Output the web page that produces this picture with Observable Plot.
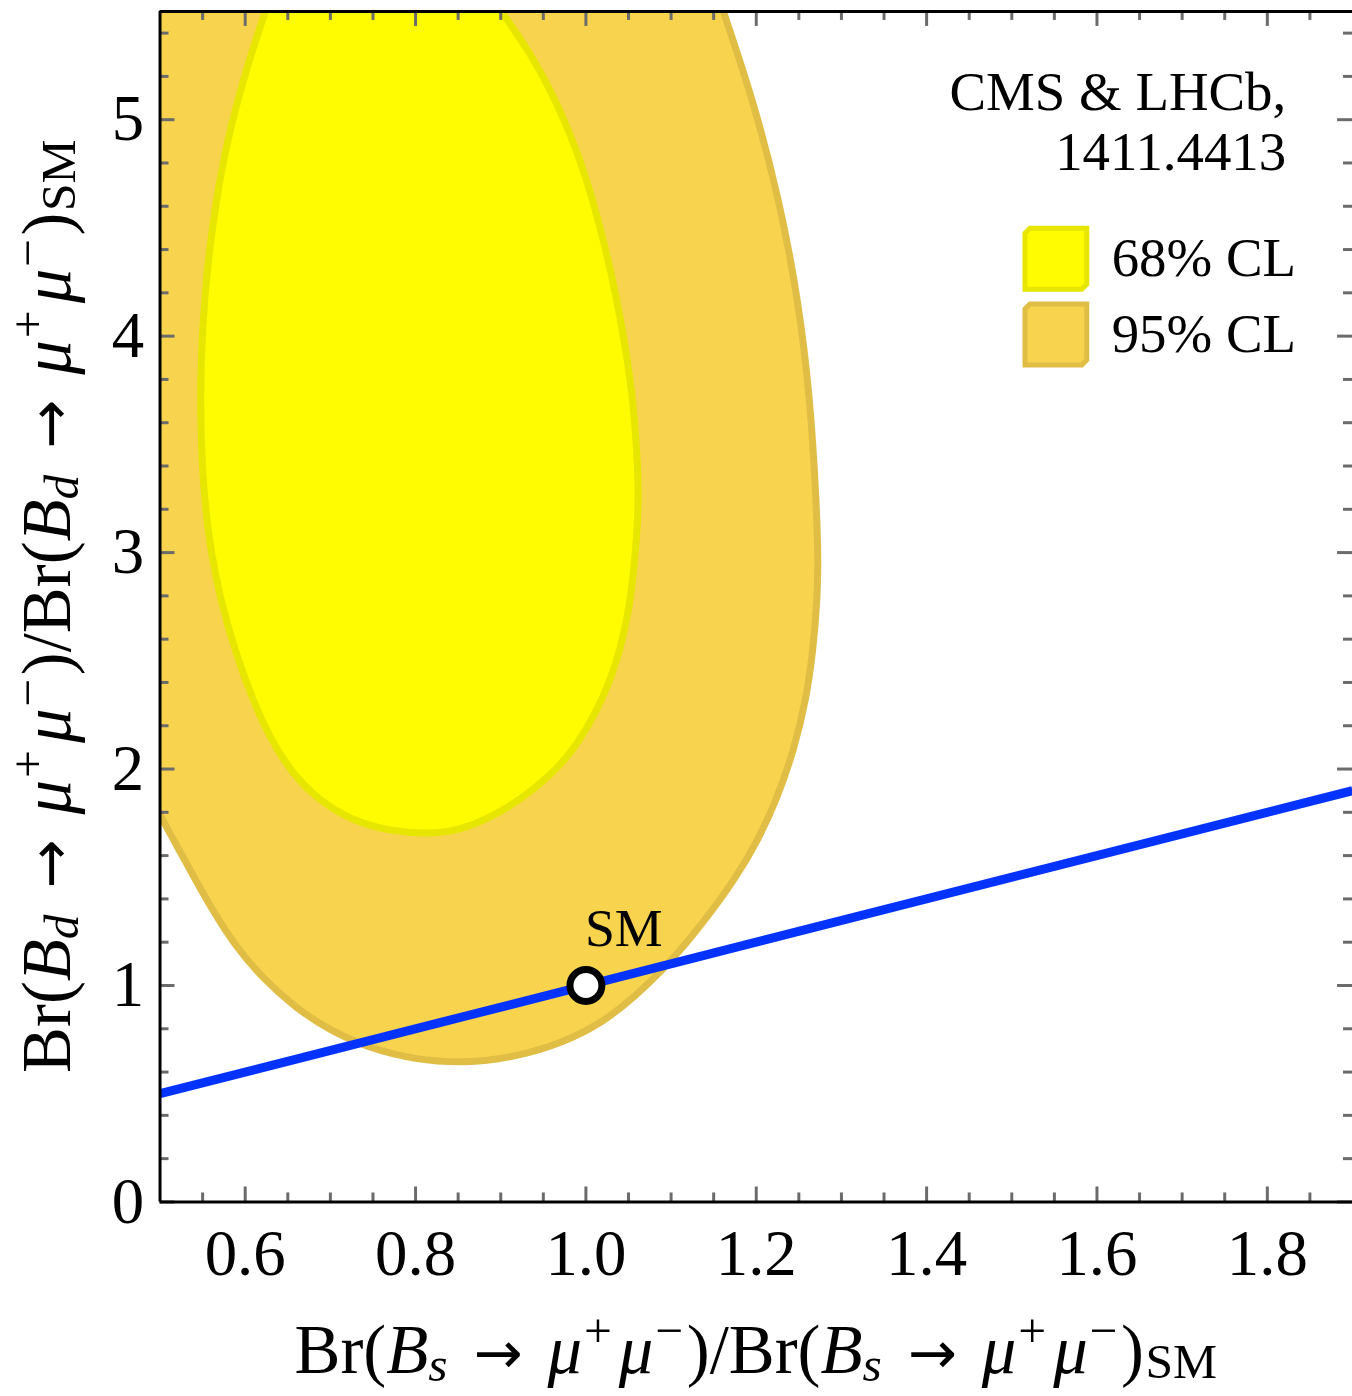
<!DOCTYPE html>
<html><head><meta charset="utf-8">
<script src="https://cdn.jsdelivr.net/npm/d3@7"></script>
<script src="https://cdn.jsdelivr.net/npm/@observablehq/plot@0.6"></script>
<style>
html,body{margin:0;padding:0;background:#fff;overflow:hidden;}
#chart svg{display:block;}
</style></head><body><div id="chart"></div>
<script>
// 95% CL contour (the first and last points lie beyond the frame and close the clipped region)
const cl95X = [1.145, 1.1535, 1.1616, 1.1967, 1.2272, 1.2494, 1.2634, 1.2704, 1.2728, 1.2716, 1.2669, 1.2588, 1.2447, 1.2248, 1.2003, 1.1734, 1.1453, 1.1184, 1.0903, 1.0587, 1.0213, 0.9745, 0.9160, 0.8575, 0.7990, 0.7463, 0.6995, 0.6586, 0.6199, 0.5883, 0.5614, 0.5392, 0.5193, 0.5006, 0.4772, 0.4480, 0.4245, 0.4187, 0.40, 0.40, 0.40];
const cl95Y = [5.75, 5.594, 5.497, 5.087, 4.627, 4.167, 3.706, 3.246, 2.970, 2.786, 2.555, 2.325, 2.095, 1.865, 1.657, 1.483, 1.331, 1.197, 1.073, 0.953, 0.833, 0.737, 0.668, 0.640, 0.658, 0.709, 0.792, 0.898, 1.036, 1.183, 1.349, 1.506, 1.648, 1.782, 1.957, 2.233, 2.786, 3.706, 5.75, 5.75, 5.75];
// 68% CL contour
const cl68X = [0.6234, 0.6082, 0.5907, 0.5766, 0.5661, 0.5579, 0.5521, 0.5486, 0.5474, 0.5486, 0.5521, 0.5591, 0.5708, 0.5872, 0.6082, 0.6293, 0.6550, 0.6878, 0.7252, 0.7697, 0.8165, 0.8516, 0.8867, 0.9218, 0.9569, 0.9861, 1.0212, 1.0411, 1.0528, 1.0587, 1.0622, 1.0598, 1.0552, 1.0470, 1.0364, 1.0236, 1.0084, 0.9896, 0.9651, 0.9335, 0.9007, 0.8867, 0.6316];
const cl68Y = [5.497, 5.318, 5.087, 4.857, 4.627, 4.397, 4.167, 3.936, 3.706, 3.476, 3.246, 3.016, 2.786, 2.555, 2.325, 2.141, 1.980, 1.851, 1.763, 1.713, 1.699, 1.717, 1.773, 1.855, 1.966, 2.086, 2.325, 2.555, 2.786, 3.016, 3.246, 3.476, 3.706, 3.936, 4.167, 4.397, 4.627, 4.857, 5.087, 5.318, 5.497, 5.594, 5.594];
// SM line and point
const smLineX = [0.5, 1.9];
const smLineY = [0.5, 1.9];
const smPointX = [1];
const smPointY = [1];
const smLabel = ["SM"];
// axes
const xDomain = [0.5, 1.9];
const yDomain = [0, 5.5];
const xMajor = [0.6, 0.8, 1.0, 1.2, 1.4, 1.6, 1.8];
const xMinor = [0.55, 0.65, 0.7, 0.75, 0.85, 0.9, 0.95, 1.05, 1.1, 1.15, 1.25, 1.3, 1.35, 1.45, 1.5, 1.55, 1.65, 1.7, 1.75, 1.85];
const yMajor = [0, 1, 2, 3, 4, 5];
const yMinor = [0.2, 0.4, 0.6, 0.8, 1.2, 1.4, 1.6, 1.8, 2.2, 2.4, 2.6, 2.8, 3.2, 3.4, 3.6, 3.8, 4.2, 4.4, 4.6, 4.8, 5.2, 5.4];
const sourceLines = ["CMS & LHCb,", "1411.4413"];
const legendLabels = ["68% CL", "95% CL"];

const W = 1356, H = 1396, mL = 160, mR = 0, mT = 11, mB = 191;
const pw = W - mL - mR, ph = H - mT - mB;
const FONT = '"Liberation Serif","Times New Roman",Times,serif';
const TICK = "#6b6b6b";
const C95 = "#F8D34E", C95s = "#E0BD45";
const C68 = "#FFFB00", C68s = "#E6E600";

const cl95 = cl95X.map((x, i) => ({x, y: cl95Y[i]}));
const cl68 = cl68X.map((x, i) => ({x, y: cl68Y[i]}));
const smLine = smLineX.map((x, i) => ({x, y: smLineY[i]}));
const smPoint = smPointX.map((x, i) => ({x, y: smPointY[i], t: smLabel[i]}));

const plot = Plot.plot({
  width: W, height: H,
  marginLeft: mL, marginRight: mR, marginTop: mT, marginBottom: mB,
  style: {fontFamily: FONT, background: "white", color: "black"},
  x: {domain: xDomain},
  y: {domain: yDomain},
  marks: [
    Plot.line(cl95, {x: "x", y: "y", curve: "basis-closed", fill: C95, stroke: C95s, strokeWidth: 7, clip: true}),
    Plot.line(cl68, {x: "x", y: "y", curve: "basis-closed", fill: C68, stroke: C68s, strokeWidth: 7, clip: true}),
    Plot.line(smLine, {x: "x", y: "y", stroke: "#0433FF", strokeWidth: 9, strokeLinecap: "butt", clip: true}),
    Plot.dot(smPoint, {x: "x", y: "y", r: 16, fill: "white", stroke: "black", strokeWidth: 7}),
    Plot.text(smPoint, {x: "x", y: "y", text: "t", dx: 38, dy: -57, fontSize: 54, fill: "black"}),
    // inward ticks on four sides
    Plot.tickX(xMajor, {x: d => d, insetTop: ph - 15, stroke: TICK, strokeWidth: 3}),
    Plot.tickX(xMinor, {x: d => d, insetTop: ph - 9, stroke: TICK, strokeWidth: 3}),
    Plot.tickX(xMajor, {x: d => d, insetBottom: ph - 15, stroke: TICK, strokeWidth: 3}),
    Plot.tickX(xMinor, {x: d => d, insetBottom: ph - 9, stroke: TICK, strokeWidth: 3}),
    Plot.tickY(yMajor, {y: d => d, insetRight: pw - 15, stroke: TICK, strokeWidth: 3}),
    Plot.tickY(yMinor, {y: d => d, insetRight: pw - 9, stroke: TICK, strokeWidth: 3}),
    Plot.tickY(yMajor, {y: d => d, insetLeft: pw - 15, stroke: TICK, strokeWidth: 3}),
    Plot.tickY(yMinor, {y: d => d, insetLeft: pw - 9, stroke: TICK, strokeWidth: 3}),
    // frame
    Plot.ruleX([xDomain[0]], {stroke: "black", strokeWidth: 3}),
    Plot.ruleY([yDomain[0]], {stroke: "black", strokeWidth: 3}),
    Plot.ruleY([yDomain[1]], {stroke: "black", strokeWidth: 3}),
    // tick labels
    Plot.axisX({ticks: xMajor, tickSize: 0, tickPadding: 27, tickFormat: d3.format(".1f"), fontSize: 65, label: null}),
    Plot.axisY({ticks: yMajor, tickSize: 0, tickPadding: 16, tickFormat: d => String(d), fontSize: 65, label: null})
  ]
});

document.getElementById("chart").appendChild(plot);
const svg = d3.select(plot);

function mathLabel(g, parts, fs) {
  const t = g.append("text").attr("font-size", fs).attr("font-family", FONT).attr("fill", "black");
  let shift = 0;
  for (const [s, kind, dx] of parts) {
    const sp = t.append("tspan").text(s);
    let target = 0, size = null, italic = false;
    if (kind === "i") italic = true;
    if (kind === "subi") { target = 0.12 * fs; size = 0.72 * fs; italic = true; }
    if (kind === "sub") { target = 0.07 * fs; size = 0.72 * fs; }
    if (kind === "sup") { target = -0.38 * fs; size = 0.72 * fs; }
    if (kind === "arrow") { size = 0.85 * fs; sp.attr("font-family", '"DejaVu Sans",sans-serif'); }
    if (italic) sp.attr("font-style", "italic");
    if (size) sp.attr("font-size", size);
    sp.attr("dy", target - shift);
    if (dx) sp.attr("dx", dx * fs);
    shift = target;
  }
  return t;
}
function brParts(q) {
  const half = [["B", "i"], [q, "subi"], ["→", "arrow", 0.38], ["μ", "i", 0.36], ["+", "sup", 0.03], ["μ", "i", 0.1], ["−", "sup", 0.03]];
  return [["Br(", "r"], ...half, [")/Br(", "r", 0.05], ...half, [")", "r", 0.05], ["SM", "sub", 0.02]];
}
const xt = mathLabel(svg, brParts("s"), 69);
xt.attr("text-anchor", "middle").attr("transform", `translate(${mL + pw / 2},1377)`);
const yt = mathLabel(svg, brParts("d"), 69);
yt.attr("text-anchor", "middle").attr("transform", `translate(70,${mT + ph / 2})rotate(-90)`);

// source annotation
sourceLines.forEach((s, i) => {
  svg.append("text").attr("x", 1290).attr("y", 110 + i * 61).attr("text-anchor", "end")
    .attr("font-family", FONT).attr("font-size", 55).attr("fill", "black").text(s);
});
// legend
const swatches = [[C68, C68s], [C95, C95s]];
legendLabels.forEach((s, i) => {
  const y0 = 229 + i * 76, x0 = 1028, w = 62, h = 61, c = 5;
  const pts = [[x0 + c, y0], [x0 + w, y0], [x0 + w, y0 + h - c], [x0 + w - c, y0 + h], [x0, y0 + h], [x0, y0 + c]];
  svg.append("polygon").attr("points", pts.map(p => p.join(",")).join(" "))
    .attr("fill", swatches[i][0]).attr("stroke", swatches[i][1]).attr("stroke-width", 5);
  svg.append("text").attr("x", 1115).attr("y", 277 + i * 76).attr("text-anchor", "start")
    .attr("font-family", FONT).attr("font-size", 55).attr("fill", "black").text(s);
});
</script></body></html>
